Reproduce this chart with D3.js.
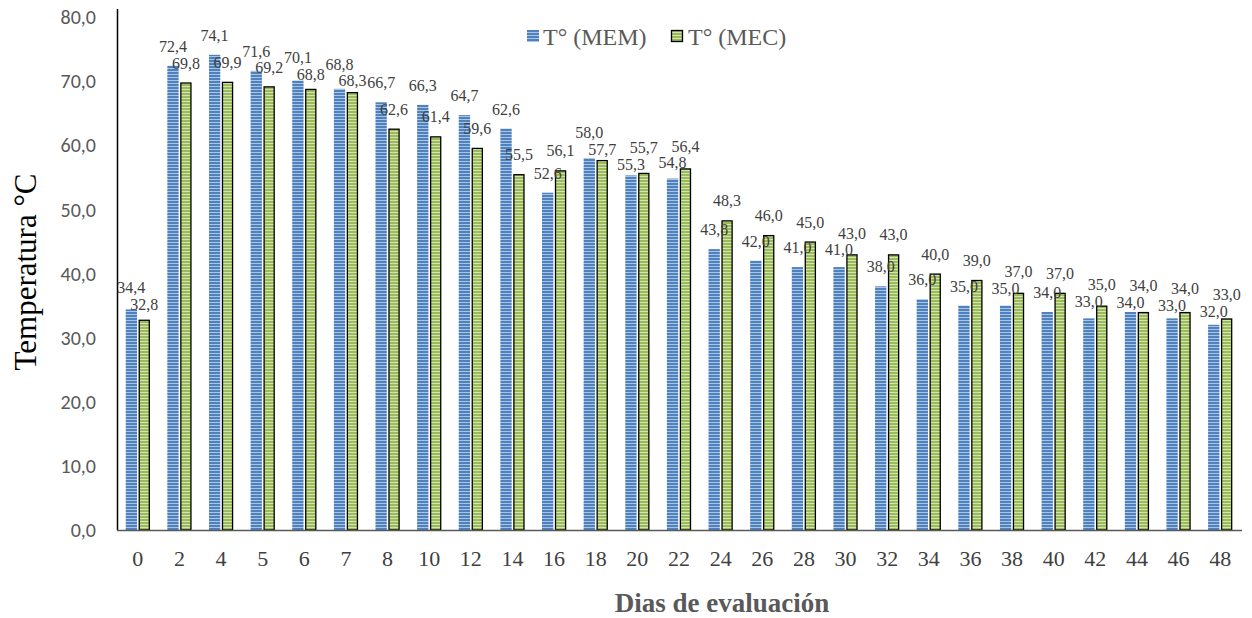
<!DOCTYPE html>
<html><head><meta charset="utf-8">
<script src="https://cdn.jsdelivr.net/npm/d3@7"></script>
<style>body{margin:0;background:#fff}svg{display:block}</style>
</head><body>
<script>
const categories = ["0","2","4","5","6","7","8","10","12","14","16","18","20","22","24","26","28","30","32","34","36","38","40","42","44","46","48"];
const mem = [34.4,72.4,74.1,71.6,70.1,68.8,66.7,66.3,64.7,62.6,52.6,58.0,55.3,54.8,43.8,42.0,41.0,41.0,38.0,36.0,35.0,35.0,34.0,33.0,34.0,33.0,32.0];
const mec = [32.8,69.8,69.9,69.2,68.8,68.3,62.6,61.4,59.6,55.5,56.1,57.7,55.7,56.4,48.3,46.0,45.0,43.0,43.0,40.0,39.0,37.0,37.0,35.0,34.0,34.0,33.0];
const seriesNames = ["T° (MEM)", "T° (MEC)"];
const yTicks = [0,10,20,30,40,50,60,70,80];

const W = 1252, H = 618;
const svg = d3.select("body").append("svg").attr("width", W).attr("height", H);
const defs = svg.append("defs");
function stripe(id, base, light){
  const p = defs.append("pattern").attr("id", id).attr("patternUnits","userSpaceOnUse").attr("width",6).attr("height",3);
  p.append("rect").attr("width",6).attr("height",3).attr("fill",base);
  p.append("rect").attr("y",2).attr("width",6).attr("height",1).attr("fill",light);
}
stripe("pMem", "#4f81bd", "#a9c4e6");
stripe("pMec", "#9bbb59", "#d3e4b4");

const x = d3.scaleBand().domain(categories).range([117, 1241]);
const y = d3.scaleLinear().domain([0,80]).range([530, 17]);
const bw = 11.3, gap = 1.6;
const fmt = v => v.toFixed(1).replace(".", ",");

// y axis line
svg.append("line").attr("x1",117.5).attr("x2",117.5).attr("y1",9).attr("y2",530).attr("stroke","#000").attr("stroke-width",1.5);

// y tick labels
svg.selectAll(".yt").data(yTicks).enter().append("text")
  .attr("x", 96).attr("y", d => y(d)).attr("dy","0.36em").attr("text-anchor","end")
  .attr("font-family","Carlito, 'Liberation Sans', sans-serif").attr("font-size",20).attr("fill","#595959")
  .text(fmt);

const g = svg.append("g");
const lblFont = 16, sep = 16.5, off = 19.5;
categories.forEach((c,i) => {
  const cx = x(c) + x.bandwidth()/2;
  const xm = cx - gap/2 - bw/2, xc = cx + gap/2 + bw/2;
  g.append("rect").attr("x", cx - gap/2 - bw).attr("y", y(mem[i])).attr("width", bw).attr("height", y(0)-y(mem[i])).attr("fill","url(#pMem)");
  g.append("rect").attr("x", cx + gap/2 + 0.6).attr("y", y(mec[i])+0.6).attr("width", bw-1.2).attr("height", y(0)-y(mec[i])-0.6).attr("fill","url(#pMec)").attr("stroke","#000").attr("stroke-width",1.3);
  // label centres with simple collision avoidance
  let cm = y(mem[i]) - off, cc = y(mec[i]) - off;
  const d = Math.abs(cm - cc);
  if (d < sep) {
    const need = sep - d;
    if (cm < cc) { cm -= need*0.4; cc += need*0.6; }
    else { cc -= need*0.4; cm += need*0.6; }
  }
  g.append("text").attr("x", xm).attr("y", cm).attr("dy","0.35em").attr("text-anchor","middle")
    .attr("font-family","'Liberation Serif', serif").attr("font-size",lblFont).attr("fill","#404040").text(fmt(mem[i]));
  g.append("text").attr("x", xc).attr("y", cc).attr("dy","0.35em").attr("text-anchor","middle")
    .attr("font-family","'Liberation Serif', serif").attr("font-size",lblFont).attr("fill","#404040").text(fmt(mec[i]));
  svg.append("text").attr("x", cx).attr("y", 566).attr("text-anchor","middle")
    .attr("font-family","'Liberation Serif', serif").attr("font-size",22).attr("fill","#404040").text(c);
});

// x axis line
svg.append("line").attr("x1",117).attr("x2",1242).attr("y1",530.5).attr("y2",530.5).attr("stroke","#595959").attr("stroke-width",1.5);

// axis titles
svg.append("text").attr("transform","translate(36,272) rotate(-90)").attr("text-anchor","middle")
  .attr("font-family","'Liberation Serif', serif").attr("font-size",31).attr("fill","#000").text("Temperatura °C");
svg.append("text").attr("x",722).attr("y",612).attr("text-anchor","middle")
  .attr("font-family","'Liberation Serif', serif").attr("font-weight","bold").attr("font-size",27).attr("fill","#595959").text("Dias de evaluación");

// legend
const leg = svg.append("g");
leg.append("rect").attr("x",527).attr("y",30).attr("width",12).attr("height",12).attr("fill","url(#pMem)");
leg.append("text").attr("x",543).attr("y",45).attr("font-family","'Liberation Serif', serif").attr("font-size",24).attr("fill","#595959").text(seriesNames[0]);
leg.append("rect").attr("x",671.5).attr("y",30.5).attr("width",11).attr("height",11).attr("fill","url(#pMec)").attr("stroke","#000").attr("stroke-width",1.3);
leg.append("text").attr("x",688).attr("y",45).attr("font-family","'Liberation Serif', serif").attr("font-size",24).attr("fill","#595959").text(seriesNames[1]);
</script>
</body></html>
